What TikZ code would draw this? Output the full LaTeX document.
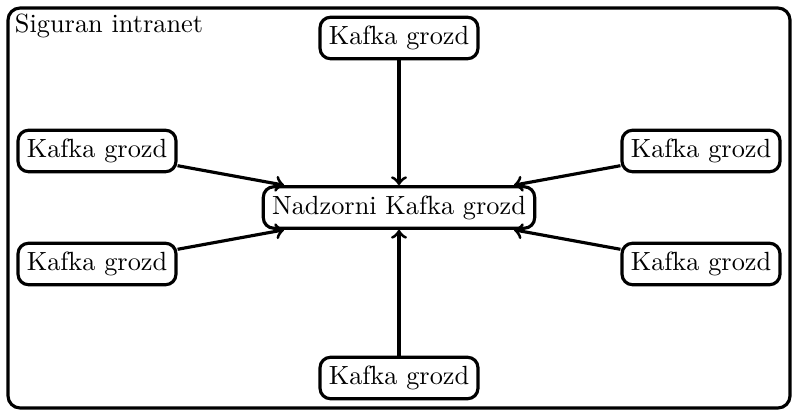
\documentclass[tikz,border=0pt]{standalone}

\tikzset{every picture/.style={line width=0.75pt}}
\tikzset{kafka/.style={draw, very thick, rounded corners=4pt, inner sep=3.33pt}}
\tikzset{veza/.style={->, very thick}}

\begin{document}
\begin{tikzpicture}[x=0.38pt,y=0.38pt,yscale=-1]
\useasboundingbox (0,0) rectangle (797,415);

%Rounded Rect [id:intranet]
\draw [very thick, rounded corners=4.6pt] (8,8) rectangle (790,408) ;
% Text Node
\node [anchor=north west, inner sep=0pt] (naslov) at (14,13) {Siguran intranet};

% Center Node
\node [kafka] (nadzor) at (399,207.5) {Nadzorni Kafka grozd};
% Text Nodes
\node [kafka] (gore) at (399,38) {Kafka grozd};
\node [kafka] (lijevo1) at (97,151) {Kafka grozd};
\node [kafka] (desno1) at (701,151) {Kafka grozd};
\node [kafka] (lijevo2) at (97,264) {Kafka grozd};
\node [kafka] (desno2) at (701,264) {Kafka grozd};
\node [kafka] (dolje) at (399,378) {Kafka grozd};

%Straight Lines
\draw [veza] (gore) -- (nadzor) ;
\draw [veza] (dolje) -- (nadzor) ;
\draw [veza] (lijevo1) -- (nadzor.169) ;
\draw [veza] (lijevo2) -- (nadzor.191) ;
\draw [veza] (desno1) -- (nadzor.11) ;
\draw [veza] (desno2) -- (nadzor.349) ;
\end{tikzpicture}
\end{document}
